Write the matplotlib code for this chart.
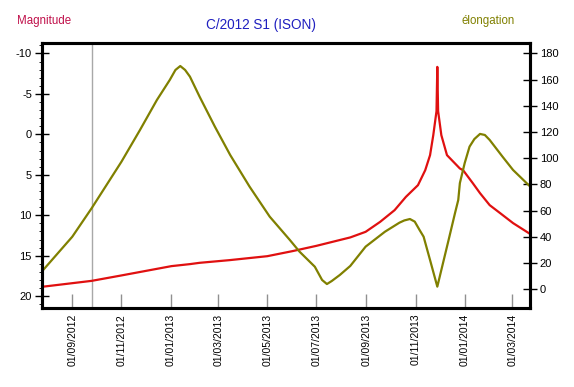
import matplotlib
matplotlib.use('Agg')
import matplotlib.pyplot as plt
import matplotlib.dates as mdates
from datetime import datetime

plt.rcParams['font.family'] = ['Liberation Sans', 'DejaVu Sans']
plt.rcParams['axes.unicode_minus'] = False

# magnitude curve (red, left axis, inverted)
mag_dates = ['2012-07-25', '2012-09-25', '2012-11-01', '2013-01-02', '2013-01-25',
             '2013-02-06', '2013-03-15', '2013-05-01', '2013-06-01', '2013-07-01',
             '2013-08-12', '2013-08-31', '2013-09-18', '2013-10-06', '2013-10-20',
             '2013-11-04', '2013-11-13', '2013-11-19', '2013-11-23', '2013-11-27',
             '2013-11-28', '2013-11-29', '2013-12-03', '2013-12-10', '2013-12-16',
             '2013-12-26', '2013-12-30', '2014-01-11', '2014-01-20', '2014-02-01',
             '2014-02-14', '2014-03-02', '2014-03-23']
magnitude = [18.85, 18.11, 17.44, 16.29, 16.04,
             15.88, 15.55, 15.06, 14.44, 13.78,
             12.74, 12.05, 10.82, 9.37, 7.73,
             6.28, 4.43, 2.57, 0.10, -2.87,
             -8.34, -2.87, 0.10, 2.57, 3.19,
             4.22, 4.43, 6.03, 7.27, 8.75,
             9.74, 10.97, 12.3]

# elongation curve (olive, right axis)
elo_dates = ['2012-07-25', '2012-09-01', '2012-09-25', '2012-11-01', '2012-11-24',
             '2012-12-15', '2012-12-31', '2013-01-07', '2013-01-13', '2013-01-19',
             '2013-01-25', '2013-02-06', '2013-02-25', '2013-03-16', '2013-04-09',
             '2013-05-04', '2013-05-29', '2013-06-10', '2013-06-29', '2013-07-08',
             '2013-07-14', '2013-07-20', '2013-07-30', '2013-08-12', '2013-08-31',
             '2013-09-24', '2013-10-12', '2013-10-18', '2013-10-25', '2013-10-31',
             '2013-11-06', '2013-11-11', '2013-11-19', '2013-11-28', '2013-12-12',
             '2013-12-20', '2013-12-24', '2013-12-26', '2014-01-01', '2014-01-07',
             '2014-01-13', '2014-01-20', '2014-01-26', '2014-02-01', '2014-02-17',
             '2014-03-02', '2014-03-23']
elongation = [13.4, 40.1, 61.8, 97.3, 121.5,
              144.4, 159.7, 167.3, 170.3, 167.3,
              162.2, 146.9, 124.0, 102.4, 78.3,
              55.4, 37.6, 28.7, 17.2, 7.1,
              4.0, 6.3, 10.9, 17.8, 32.5,
              43.9, 50.8, 52.5, 53.6, 51.6,
              45.2, 40.1, 22.3, 2.0, 37.6,
              58.2, 68.1, 81.0, 96.3, 108.8,
              114.6, 118.5, 117.7, 113.9, 101.1,
              91.0, 78.5]

tick_dates = ['2012-09-01', '2012-11-01', '2013-01-01', '2013-03-01', '2013-05-01',
              '2013-07-01', '2013-09-01', '2013-11-01', '2014-01-01', '2014-03-01']
marker_date = '2012-09-25'

def d(s):
    return datetime.strptime(s, '%Y-%m-%d')

fig = plt.figure(figsize=(5.74, 3.87), dpi=100)
ax1 = fig.add_axes([0.0726, 0.2034, 0.8507, 0.6846])
ax2 = ax1.twinx()

ax1.axvline(d(marker_date), color='#a8a8a8', lw=1.0, zorder=1)
ax1.plot([d(s) for s in mag_dates], magnitude, color='#e01010', lw=1.6, zorder=3)
ax2.plot([d(s) for s in elo_dates], elongation, color='#808000', lw=1.6)

ax1.set_xlim(d('2012-07-25'), d('2014-03-23'))
ax1.set_ylim(21.5, -11.25)
ax2.set_ylim(-14.5, 187.6)

ax1.set_yticks(range(-10, 21, 5))
ax1.set_yticks(range(-11, 22), minor=True)
ax2.set_yticks(range(0, 181, 20))

ax1.set_xticks([d(s) for s in tick_dates])
ax1.xaxis.set_major_formatter(mdates.DateFormatter('%d/%m/%Y'))
ax1.tick_params(axis='x', direction='in', length=10, width=1, color='#909090',
                labelsize=7.5, labelrotation=90, pad=4)
ax1.tick_params(axis='y', which='major', direction='inout', length=10, width=1,
                labelsize=8, pad=2)
ax1.tick_params(axis='y', which='minor', direction='out', length=2, width=0.6)
ax2.tick_params(axis='y', direction='inout', length=10, width=1, labelsize=8, pad=2)

for ax in (ax1, ax2):
    for sp in ax.spines.values():
        sp.set_linewidth(2.2)

fig.text(17 / 574, 1 - 21 / 387, 'Magnitude', color='#c0104a', fontsize=8.3,
         ha='left', va='center')
fig.text(515 / 574, 1 - 21 / 387, 'élongation', color='#808000', fontsize=8.3,
         ha='right', va='center')
fig.text(261 / 574, 1 - 25 / 387, 'C/2012 S1 (ISON)', color='#2020c0', fontsize=9.8,
         ha='center', va='center')

fig.savefig('out.png', dpi=100)
